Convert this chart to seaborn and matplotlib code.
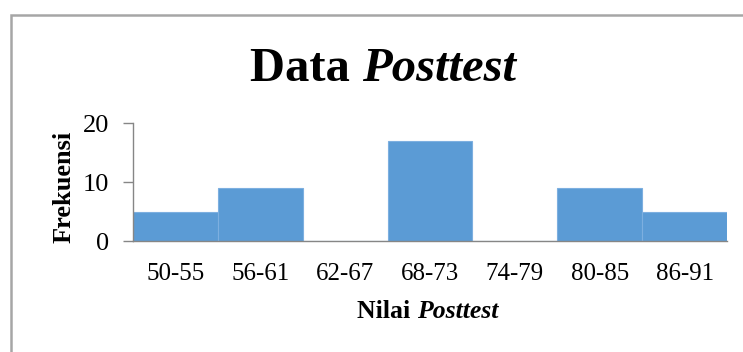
import matplotlib
matplotlib.use("Agg")
import matplotlib.pyplot as plt
import seaborn as sns
import pandas as pd
from matplotlib.patches import Rectangle

# data
kelas = ['50-55', '56-61', '62-67', '68-73', '74-79', '80-85', '86-91']
frekuensi = [5, 9, 0, 17, 0, 9, 5]
yticks = [0, 10, 20]

df = pd.DataFrame({'kelas': kelas, 'frekuensi': frekuensi})

sns.set_style('white')
plt.rcParams['font.family'] = ['Liberation Serif', 'DejaVu Serif']
plt.rcParams['text.color'] = 'black'
plt.rcParams['xtick.color'] = 'black'
plt.rcParams['ytick.color'] = 'black'
plt.rcParams['axes.labelcolor'] = 'black'

fig = plt.figure(figsize=(7.43, 3.52), dpi=100)
W, H = 743, 352
ax = fig.add_axes([133 / W, 1 - 241 / H, (727 - 133) / W, (241 - 123) / H])

sns.barplot(data=df, x='kelas', y='frekuensi', color='#5B9BD5', width=1.0,
            saturation=1, edgecolor='#7DAFE0', linewidth=0.8, ax=ax)

ax.set_xlim(-0.5, len(kelas) - 0.5)
ax.set_ylim(0, 20)
ax.set_yticks(yticks)
ax.tick_params(axis='y', length=7.2, width=1, color='#868686', labelsize=19,
               pad=10, left=True, labelcolor='black')
ax.tick_params(axis='x', length=0, labelsize=18, pad=16, labelcolor='black')
for s in ['top', 'right']:
    ax.spines[s].set_visible(False)
for s in ['left', 'bottom']:
    ax.spines[s].set_color('#868686')
    ax.spines[s].set_linewidth(1)

ax.set_xlabel('')
ax.set_ylabel('Frekuensi', fontsize=19, fontweight='bold')
ax.yaxis.set_label_coords(-0.097, 0.455)

# x axis label: "Nilai " bold + "Posttest" bold italic
xl = fig.text(357 / W, 1 - 318 / H, 'Nilai ', fontsize=18.5, fontweight='bold',
              ha='left', va='baseline', color='black')
ax.annotate('Posttest', xy=(1, 0), xycoords=xl, va='bottom', ha='left',
            fontsize=18.5, fontweight='bold', fontstyle='italic', color='black')

# title: "Data " bold + "Posttest" bold italic
t1 = fig.text(250 / W, 1 - 81 / H, 'Data ', fontsize=35, fontweight='bold',
              ha='left', va='baseline', color='black')
ax.annotate('Posttest', xy=(1, 0), xycoords=t1, va='bottom', ha='left',
            fontsize=35, fontweight='bold', fontstyle='italic', color='black')

# chart frame
fig.patches.append(Rectangle((10.5 / W, -0.1), 1.2, 1 - 14.5 / H + 0.1,
                             transform=fig.transFigure, fill=False,
                             edgecolor='#A6A6A6', linewidth=1.8))

fig.savefig('out.png', dpi=100)
